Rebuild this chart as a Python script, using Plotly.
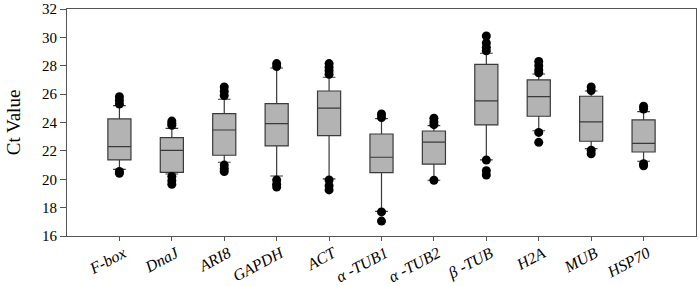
import plotly.graph_objects as go

genes = ["F-box", "DnaJ", "ARI8", "GAPDH", "ACT", "α -TUB1", "α -TUB2", "β -TUB", "H2A", "MUB", "HSP70"]
q1 = [21.36, 20.49, 21.69, 22.35, 23.07, 20.46, 21.06, 23.83, 24.44, 22.68, 21.92]
median = [22.30, 22.04, 23.47, 23.92, 25.02, 21.55, 22.61, 25.52, 25.82, 24.04, 22.53]
q3 = [24.25, 22.93, 24.62, 25.33, 26.22, 23.19, 23.40, 28.10, 27.00, 25.85, 24.18]
lower_whisker = [20.70, 20.37, 21.20, 20.23, 20.02, 17.74, 19.93, 21.36, 23.42, 22.16, 21.27]
upper_whisker = [25.19, 23.59, 25.64, 27.84, 27.19, 24.27, 23.78, 28.88, 27.42, 26.22, 24.76]

outliers = {
    "F-box": [25.82, 25.55, 25.30, 20.55, 20.42],
    "DnaJ": [24.10, 23.95, 23.80, 20.20, 19.90, 19.65],
    "ARI8": [26.50, 26.20, 25.90, 21.00, 20.75, 20.55],
    "GAPDH": [28.15, 27.95, 19.95, 19.65, 19.45],
    "ACT": [28.15, 27.90, 27.65, 27.40, 19.95, 19.55, 19.25],
    "α -TUB1": [24.60, 24.35, 17.70, 17.05],
    "α -TUB2": [24.30, 24.05, 23.85, 19.93],
    "β -TUB": [30.10, 29.60, 29.30, 29.05, 21.36, 20.60, 20.30],
    "H2A": [28.30, 28.00, 27.70, 27.50, 23.30, 22.60],
    "MUB": [26.50, 26.25, 22.05, 21.80],
    "HSP70": [25.15, 24.95, 21.10, 20.95],
}
tick_labels = ["<i>" + g + "</i>" for g in genes]

ox, oy = [], []
for g in genes:
    for v in outliers[g]:
        ox.append(g)
        oy.append(v)

fig = go.Figure()
fig.add_trace(go.Box(
    x=genes, q1=q1, median=median, q3=q3,
    lowerfence=lower_whisker, upperfence=upper_whisker,
    boxpoints=False,
    fillcolor="#b3b3b3",
    line=dict(color="#3a3a3a", width=1.2),
    whiskerwidth=0.55,
    showlegend=False,
    hoverinfo="skip",
))
fig.add_trace(go.Scatter(
    x=ox, y=oy, mode="markers",
    marker=dict(color="black", size=9),
    showlegend=False, hoverinfo="skip",
))

font = "Liberation Serif, Times New Roman, serif"
fig.update_layout(
    width=700, height=286,
    margin=dict(l=67, r=4, t=9, b=50),
    paper_bgcolor="white", plot_bgcolor="white",
    boxgap=0.37,
    font=dict(family=font, color="black"),
    xaxis=dict(
        type="category", range=[-1, 11],
        tickmode="array", tickvals=genes, ticktext=tick_labels,
        showline=True, linecolor="#555555", linewidth=1.2, mirror=True,
        ticks="outside", ticklen=4, tickcolor="#555555",
        tickangle=-28,
        ticklabelstandoff=-3, ticklabelshift=4,
        tickfont=dict(family=font, size=16),
        showgrid=False, zeroline=False, automargin=False,
    ),
    yaxis=dict(
        range=[16, 32], dtick=2,
        showline=True, linecolor="#555555", linewidth=1.2, mirror=True,
        ticks="outside", ticklen=6, tickcolor="#555555",
        tickfont=dict(family=font, size=15),
        title=dict(text="Ct Value", font=dict(family=font, size=19), standoff=16),
        showgrid=False, zeroline=False, automargin=False,
    ),
)

fig.write_html(
    "out.html",
    config={"displayModeBar": False},
    post_script="document.body.style.margin='0';document.body.style.padding='0';",
)
